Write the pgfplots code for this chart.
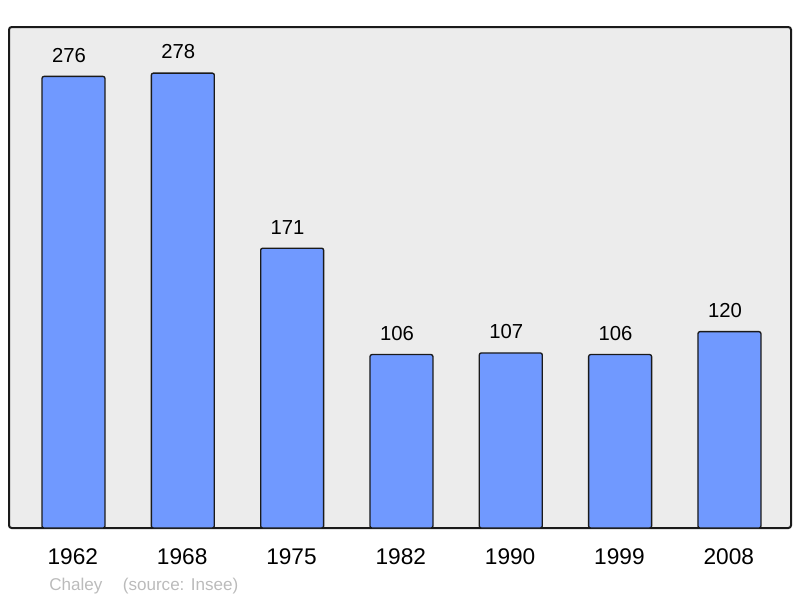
\documentclass[border=0pt]{standalone}
\usepackage{pgfplots}
\pgfplotsset{compat=1.18}
\usepackage{fontspec}
\setmainfont{Liberation Sans}
\definecolor{barblue}{HTML}{7099FF}
\definecolor{bgray}{HTML}{ECECEC}
\definecolor{edge}{HTML}{1A1A1A}
\definecolor{foot}{HTML}{BBBBBB}
\begin{document}
\begin{tikzpicture}
\begin{axis}[
  name=ax,
  scale only axis,
  width=586.5pt, height=375.75pt,
  xmin=-0.59, xmax=6.563,
  ymin=0, ymax=306.2,
  axis background/.style={fill=bgray},
  axis line style={edge, line width=1.5pt, rounded corners=2pt},
  xtick=data,
  xticklabels={1962,1968,1975,1982,1990,1999,2008},
  ytick=\empty,
  xtick style={draw=none},
  x tick label style={font=\fontsize{17}{19}\selectfont, yshift=-8pt, xshift=-0.5pt},
  /pgf/number format/assume math mode=true,
  ybar,
  bar width=0.576,
  nodes near coords,
  every node near coord/.append style={font=\fontsize{15.2}{17}\selectfont, anchor=south, inner sep=0pt, yshift=10pt, xshift=-3.4pt},
  clip=false,
]
\addplot[fill=barblue, draw=edge, line width=1pt, rounded corners=1.5pt] coordinates {
 (0,276) (1,278) (2,171) (3,106) (4,107) (5,106) (6,120)
};
\end{axis}
\path ([xshift=-6.75pt,yshift=-52.5pt]ax.south west) rectangle ([xshift=6.75pt,yshift=20.25pt]ax.north east);
\node[anchor=base west, inner sep=0pt, text=foot, font=\fontsize{12.8}{14}\selectfont] at ([xshift=30pt,yshift=-46.5pt]ax.south west) {Chaley\hspace{1.2em}(source: Insee)};
\end{tikzpicture}
\end{document}
